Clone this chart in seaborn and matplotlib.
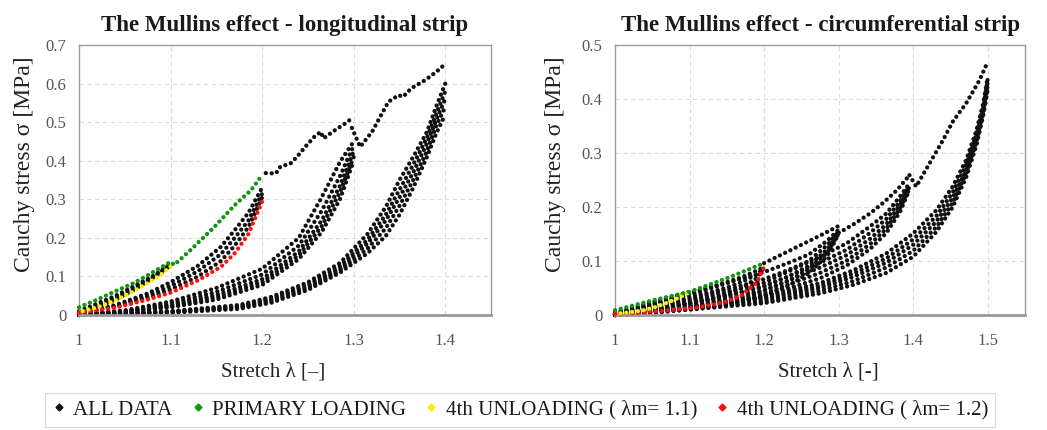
import matplotlib
matplotlib.use('Agg')
import numpy as np
import pandas as pd
import matplotlib.pyplot as plt
import seaborn as sns
from matplotlib.lines import Line2D
from matplotlib.ticker import FuncFormatter, MultipleLocator

# ---------------- longitudinal strip ----------------
# primary loading (green part up to 1.2)
long_green_x = [1.0, 1.02, 1.04, 1.06, 1.08, 1.10, 1.104, 1.122, 1.148, 1.17, 1.188, 1.20]
long_green_y = [0.02, 0.04, 0.062, 0.083, 0.11, 0.138, 0.130, 0.169, 0.229, 0.285, 0.324, 0.363]
# primary loading continued (black)
long_prim2_x = [1.204, 1.215, 1.220, 1.226, 1.231, 1.238, 1.247, 1.257, 1.264, 1.267, 1.280, 1.291, 1.298]
long_prim2_y = [0.368, 0.367, 0.385, 0.389, 0.393, 0.410, 0.436, 0.462, 0.475, 0.458, 0.480, 0.497, 0.510]
long_prim3_x = [1.298, 1.307, 1.320, 1.331, 1.338, 1.349, 1.354, 1.363, 1.378, 1.390, 1.400]
long_prim3_y = [0.485, 0.436, 0.475, 0.523, 0.553, 0.570, 0.566, 0.588, 0.609, 0.630, 0.651]

# cycles at lambda_m = 1.1
long_l11_x = [1.0, 1.02, 1.04, 1.06, 1.08, 1.10]
long_l11_a = [0.005, 0.020, 0.040, 0.065, 0.095, 0.130]
long_l11_b = [0.010, 0.030, 0.050, 0.075, 0.100, 0.132]
long_l11_c = [0.008, 0.025, 0.045, 0.070, 0.098, 0.128]
long_yellow_x = [1.10, 1.09, 1.08, 1.06, 1.04, 1.02, 1.0]
long_yellow_y = [0.126, 0.105, 0.090, 0.062, 0.038, 0.020, 0.008]

# cycles at lambda_m = 1.2
long_l12_x = [1.0, 1.04, 1.075, 1.10, 1.13, 1.155, 1.17, 1.185, 1.20]
long_l12_a = [0.005, 0.026, 0.056, 0.085, 0.128, 0.177, 0.220, 0.265, 0.330]
long_l12_b = [0.005, 0.023, 0.050, 0.075, 0.114, 0.158, 0.200, 0.245, 0.315]
long_l12_c = [0.005, 0.021, 0.045, 0.066, 0.100, 0.140, 0.180, 0.228, 0.305]
long_red_y = [0.006, 0.019, 0.040, 0.058, 0.090, 0.125, 0.160, 0.210, 0.294]

# cycles at lambda_m = 1.3
long_l13_x = [1.0, 1.05, 1.10, 1.15, 1.20, 1.24, 1.265, 1.285, 1.30]
long_l13_a = [0.003, 0.012, 0.035, 0.070, 0.120, 0.200, 0.305, 0.397, 0.450]
long_l13_b = [0.002, 0.010, 0.030, 0.060, 0.105, 0.180, 0.270, 0.360, 0.440]
long_l13_c = [0.001, 0.009, 0.026, 0.052, 0.093, 0.165, 0.245, 0.335, 0.425]
long_l13_d = [0.001, 0.008, 0.023, 0.046, 0.085, 0.155, 0.230, 0.318, 0.410]
long_l13_e = [0.000, 0.007, 0.020, 0.040, 0.078, 0.145, 0.215, 0.300, 0.400]

# cycles at lambda_m = 1.4
long_l14_x = [1.0, 1.10, 1.175, 1.21, 1.25, 1.285, 1.315, 1.335, 1.35, 1.365, 1.38, 1.39, 1.40]
long_l14_a = [0.0, 0.010, 0.026, 0.047, 0.085, 0.135, 0.210, 0.280, 0.350, 0.410, 0.475, 0.540, 0.600]
long_l14_b = [0.0, 0.009, 0.023, 0.043, 0.079, 0.127, 0.195, 0.260, 0.325, 0.390, 0.460, 0.520, 0.580]
long_l14_c = [0.0, 0.008, 0.021, 0.040, 0.074, 0.120, 0.185, 0.245, 0.305, 0.370, 0.445, 0.505, 0.560]
long_l14_d = [0.0, 0.007, 0.019, 0.036, 0.070, 0.115, 0.172, 0.225, 0.283, 0.350, 0.425, 0.490, 0.540]
long_l14_e = [0.0, 0.006, 0.016, 0.032, 0.065, 0.110, 0.160, 0.205, 0.260, 0.330, 0.410, 0.470, 0.520]

# ---------------- circumferential strip ----------------
circ_green_x = [1.0, 1.05, 1.10, 1.15, 1.20]
circ_green_y = [0.009, 0.027, 0.043, 0.068, 0.096]
circ_prim2_x = [1.20, 1.225, 1.25, 1.275, 1.30]
circ_prim2_y = [0.096, 0.113, 0.130, 0.147, 0.165]
circ_prim3_x = [1.30, 1.32, 1.342, 1.36, 1.378, 1.395]
circ_prim3_y = [0.152, 0.168, 0.188, 0.208, 0.231, 0.259]
circ_prim4_x = [1.395, 1.404, 1.422, 1.440, 1.453, 1.471, 1.489, 1.50]
circ_prim4_y = [0.259, 0.238, 0.281, 0.324, 0.358, 0.392, 0.435, 0.469]

circ_l11_x = [1.0, 1.03, 1.06, 1.08, 1.10]
circ_l11_a = [0.003, 0.012, 0.024, 0.032, 0.042]
circ_l11_b = [0.005, 0.016, 0.028, 0.035, 0.043]
circ_yellow_x = [1.097, 1.085, 1.074, 1.055, 1.039, 1.02, 1.0]
circ_yellow_y = [0.040, 0.032, 0.025, 0.015, 0.009, 0.005, 0.002]

circ_l12_x = [1.0, 1.04, 1.08, 1.11, 1.13, 1.15, 1.17, 1.19, 1.20]
circ_l12_a = [0.003, 0.016, 0.032, 0.045, 0.053, 0.061, 0.070, 0.082, 0.089]
circ_l12_b = [0.002, 0.012, 0.025, 0.036, 0.043, 0.051, 0.061, 0.075, 0.088]
circ_l12_c = [0.002, 0.008, 0.017, 0.025, 0.031, 0.039, 0.050, 0.068, 0.088]
circ_red_y = [0.002, 0.005, 0.010, 0.014, 0.019, 0.025, 0.037, 0.060, 0.089]

circ_l13_x = [1.0, 1.06, 1.11, 1.15, 1.195, 1.23, 1.26, 1.285, 1.30]
circ_l13_a = [0.002, 0.022, 0.041, 0.059, 0.077, 0.095, 0.112, 0.138, 0.158]
circ_l13_b = [0.001, 0.016, 0.032, 0.047, 0.064, 0.082, 0.100, 0.130, 0.155]
circ_l13_c = [0.001, 0.011, 0.024, 0.036, 0.052, 0.070, 0.091, 0.122, 0.153]
circ_l13_d = [0.000, 0.008, 0.018, 0.027, 0.043, 0.061, 0.085, 0.116, 0.151]
circ_l13_e = [0.000, 0.005, 0.012, 0.019, 0.034, 0.052, 0.078, 0.110, 0.150]

circ_l14_x = [1.0, 1.10, 1.20, 1.275, 1.311, 1.342, 1.364, 1.382, 1.395]
circ_l14_a = [0.0, 0.025, 0.060, 0.108, 0.133, 0.164, 0.188, 0.219, 0.244]
circ_l14_b = [0.0, 0.021, 0.052, 0.097, 0.121, 0.152, 0.178, 0.210, 0.240]
circ_l14_c = [0.0, 0.018, 0.046, 0.088, 0.111, 0.141, 0.168, 0.203, 0.237]
circ_l14_d = [0.0, 0.015, 0.040, 0.078, 0.101, 0.131, 0.160, 0.197, 0.234]
circ_l14_e = [0.0, 0.012, 0.035, 0.068, 0.092, 0.122, 0.152, 0.190, 0.232]

circ_l15_x = [1.0, 1.10, 1.20, 1.275, 1.32, 1.364, 1.40, 1.431, 1.453, 1.471, 1.485, 1.494, 1.50]
circ_l15_a = [0.0, 0.015, 0.035, 0.059, 0.083, 0.114, 0.151, 0.194, 0.238, 0.287, 0.343, 0.392, 0.441]
circ_l15_b = [0.0, 0.014, 0.032, 0.054, 0.077, 0.105, 0.140, 0.183, 0.227, 0.278, 0.335, 0.385, 0.437]
circ_l15_c = [0.0, 0.013, 0.029, 0.050, 0.071, 0.097, 0.130, 0.173, 0.217, 0.268, 0.327, 0.380, 0.432]
circ_l15_d = [0.0, 0.011, 0.025, 0.045, 0.063, 0.088, 0.119, 0.163, 0.208, 0.262, 0.321, 0.375, 0.425]
circ_l15_e = [0.0, 0.010, 0.022, 0.040, 0.056, 0.078, 0.108, 0.154, 0.200, 0.255, 0.315, 0.370, 0.417]

BLACK = '#111111'
GREEN = '#129412'
YELLOW = '#f2f200'
RED = '#ff1010'

sns.set_theme(style='white')
plt.rcParams['font.family'] = ['Liberation Serif', 'DejaVu Serif']


def dots(ax, x, y, color, z=2):
    # dense dotted line to look like the measured points
    sns.lineplot(x=x, y=y, ax=ax, sort=False, estimator=None, color=color,
                 linewidth=3.1, linestyle=(0, (0.01, 1.35)),
                 dash_capstyle='round', zorder=z, clip_on=False)


def style_axes(ax, xmax, ymax, xticks, title):
    ax.set_xlim(1.0, xmax)
    ax.set_ylim(0, ymax)
    ax.set_xticks(xticks)
    ax.yaxis.set_major_locator(MultipleLocator(0.1))
    ax.xaxis.set_major_formatter(FuncFormatter(lambda v, p: f'{v:g}'))
    ax.yaxis.set_major_formatter(FuncFormatter(lambda v, p: f'{round(v, 2):g}'))
    ax.grid(True, color='#dcdcdc', linestyle=(0, (4, 3)), linewidth=0.8)
    ax.set_axisbelow(True)
    for s in ax.spines.values():
        s.set_color('#9a9a9a')
        s.set_linewidth(1.0)
    ax.spines['bottom'].set_linewidth(2.0)
    ax.tick_params(axis='both', length=0, labelsize=12, colors='#555555')
    ax.tick_params(axis='x', pad=13)
    ax.tick_params(axis='y', pad=9)
    ax.set_ylabel('Cauchy stress σ [MPa]', fontsize=17, color='#222222')
    ax.set_title(title, fontsize=16.5, fontweight='bold', color='#1a1a1a', pad=10)


fig = plt.figure(figsize=(10.47, 4.30), dpi=100)
ax1 = fig.add_axes([0.0755, 0.2674, 0.3935, 0.6279])
ax2 = fig.add_axes([0.5874, 0.2674, 0.3916, 0.6279])

# longitudinal
for ys in [long_l14_a, long_l14_b, long_l14_c, long_l14_d, long_l14_e]:
    dots(ax1, long_l14_x, ys, BLACK)
for ys in [long_l13_a, long_l13_b, long_l13_c, long_l13_d, long_l13_e]:
    dots(ax1, long_l13_x, ys, BLACK)
for ys in [long_l12_a, long_l12_b, long_l12_c]:
    dots(ax1, long_l12_x, ys, BLACK)
for ys in [long_l11_a, long_l11_b, long_l11_c]:
    dots(ax1, long_l11_x, ys, BLACK)
dots(ax1, long_prim2_x, long_prim2_y, BLACK)
dots(ax1, long_prim3_x, long_prim3_y, BLACK)
dots(ax1, long_l12_x, long_red_y, RED, 3)
dots(ax1, long_yellow_x, long_yellow_y, YELLOW, 3)
dots(ax1, long_green_x, long_green_y, GREEN, 4)
style_axes(ax1, 1.45, 0.7, [1.0, 1.1, 1.2, 1.3, 1.4], 'The Mullins effect - longitudinal strip')
ax1.set_xlabel('Stretch λ [–]', fontsize=15, color='#222222')
ax1.yaxis.set_label_coords(-0.108, 0.56)
ax1.xaxis.set_label_coords(0.47, -0.175)

# circumferential
for ys in [circ_l15_a, circ_l15_b, circ_l15_c, circ_l15_d, circ_l15_e]:
    dots(ax2, circ_l15_x, ys, BLACK)
for ys in [circ_l14_a, circ_l14_b, circ_l14_c, circ_l14_d, circ_l14_e]:
    dots(ax2, circ_l14_x, ys, BLACK)
for ys in [circ_l13_a, circ_l13_b, circ_l13_c, circ_l13_d, circ_l13_e]:
    dots(ax2, circ_l13_x, ys, BLACK)
for ys in [circ_l12_a, circ_l12_b, circ_l12_c]:
    dots(ax2, circ_l12_x, ys, BLACK)
for ys in [circ_l11_a, circ_l11_b]:
    dots(ax2, circ_l11_x, ys, BLACK)
dots(ax2, circ_prim2_x, circ_prim2_y, BLACK)
dots(ax2, circ_prim3_x, circ_prim3_y, BLACK)
dots(ax2, circ_prim4_x, circ_prim4_y, BLACK)
dots(ax2, circ_l12_x, circ_red_y, RED, 3)
dots(ax2, circ_yellow_x, circ_yellow_y, YELLOW, 3)
dots(ax2, circ_green_x, circ_green_y, GREEN, 4)
style_axes(ax2, 1.55, 0.5, [1.0, 1.1, 1.2, 1.3, 1.4, 1.5], 'The Mullins effect - circumferential strip')
ax2.set_xlabel('Stretch λ [-]', fontsize=15, color='#222222')
ax2.yaxis.set_label_coords(-0.12, 0.56)
ax2.xaxis.set_label_coords(0.52, -0.175)

labels = ['ALL DATA', 'PRIMARY LOADING', '4th UNLOADING ( λm= 1.1)', '4th UNLOADING ( λm= 1.2)']
handles = [Line2D([], [], marker='D', ms=3.5, ls='none', color=c)
           for c in [BLACK, GREEN, YELLOW, RED]]
leg = fig.legend(handles, labels, loc='center', bbox_to_anchor=(0.497, 0.047), ncol=4,
                 frameon=True, fancybox=False, edgecolor='#d0d0d0', fontsize=15,
                 handlelength=0.6, handletextpad=0.4, columnspacing=0.9,
                 borderpad=0.35)
for t in leg.get_texts():
    t.set_color('#1a1a1a')
leg.get_frame().set_linewidth(0.8)

fig.savefig('out.png', dpi=100)
